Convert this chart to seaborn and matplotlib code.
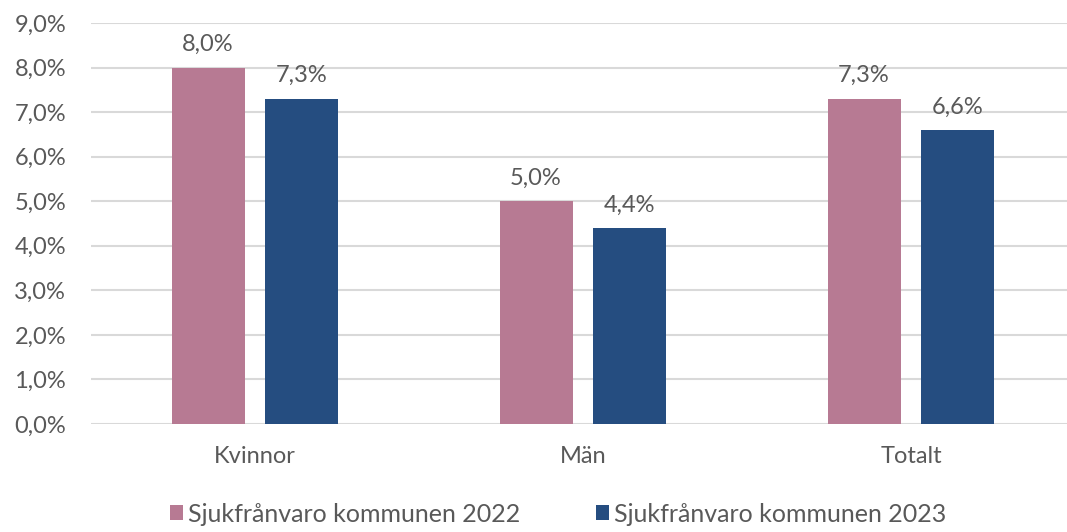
import pandas as pd
import seaborn as sns
import matplotlib.pyplot as plt
import numpy as np

# Data
kategorier = ['Kvinnor', 'Män', 'Totalt']
serier = ['Sjukfrånvaro kommunen 2022', 'Sjukfrånvaro kommunen 2023']
varden_2022 = [8.0, 5.0, 7.3]
varden_2023 = [7.3, 4.4, 6.6]
y_ticks = [0, 1, 2, 3, 4, 5, 6, 7, 8, 9]

farger = ['#B77A93', '#254D80']
textfarg = '#595959'

df = pd.DataFrame({
    'Kategori': kategorier * 2,
    'Serie': [serier[0]] * 3 + [serier[1]] * 3,
    'Varde': varden_2022 + varden_2023,
})

sns.set_theme(style='white')
plt.rcParams['font.family'] = ['Lato', 'DejaVu Sans']

fig = plt.figure(figsize=(10.67, 5.32), dpi=100)
# axes extends slightly past the right edge, like the cropped original
ax = fig.add_axes([91 / 1067, 1 - 424 / 532, 984 / 1067, 401 / 532])

sns.barplot(data=df, x='Kategori', y='Varde', hue='Serie', palette=farger,
            width=0.573, gap=0.223, saturation=1, linewidth=0, ax=ax, legend=True)

ax.set_ylim(0, 9)
ax.set_yticks(y_ticks)
ax.set_yticklabels([f'{v:.1f}%'.replace('.', ',') for v in y_ticks])
ax.set_xlim(-0.5, 2.5)
ax.set_xlabel('')
ax.set_ylabel('')
ax.grid(axis='y', color='#D9D9D9', linewidth=1.5)
ax.set_axisbelow(True)
for s in ax.spines.values():
    s.set_visible(False)
ax.tick_params(axis='y', length=0, pad=18, labelsize=17, labelcolor=textfarg)
ax.tick_params(axis='x', length=0, pad=16, labelsize=17, labelcolor=textfarg)

# Datatiketter
for cont in ax.containers:
    etiketter = [f'{b.get_height():.1f}%'.replace('.', ',') for b in cont]
    ax.bar_label(cont, labels=etiketter, padding=9, fontsize=17, color=textfarg)

# Legend under diagrammet
handles, labels = ax.get_legend_handles_labels()
ax.legend(handles, labels, loc='center', bbox_to_anchor=(558 / 1067, 18 / 532),
          bbox_transform=fig.transFigure, ncol=2, frameon=False, fontsize=18,
          labelcolor=textfarg, handlelength=0.55, handleheight=0.55,
          handletextpad=0.2, columnspacing=3.0)

plt.savefig('out.png', dpi=100)
